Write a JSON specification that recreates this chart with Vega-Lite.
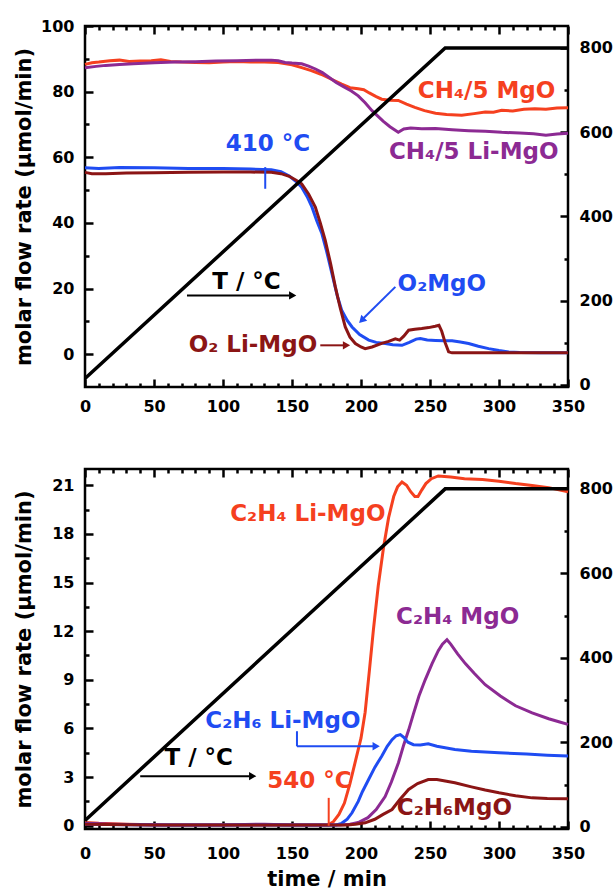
{
"$schema": "https://vega.github.io/schema/vega-lite/v6.json",
"padding": {"left": 11, "top": 16, "right": 0, "bottom": 0},
"spacing": 50,
"datasets": {
"temp": [{"t":0,"T":15},{"t":261,"T":800},{"t":350,"T":800}],
"top": [
{"s":"CH4/5 MgO","t":0,"v":88.3},{"s":"CH4/5 MgO","t":5,"v":88.8},{"s":"CH4/5 MgO","t":10,"v":89.0},{"s":"CH4/5 MgO","t":18,"v":89.4},{"s":"CH4/5 MgO","t":25,"v":89.6},{"s":"CH4/5 MgO","t":32,"v":89.2},{"s":"CH4/5 MgO","t":40,"v":89.3},{"s":"CH4/5 MgO","t":48,"v":89.4},{"s":"CH4/5 MgO","t":55,"v":89.7},{"s":"CH4/5 MgO","t":62,"v":89.2},{"s":"CH4/5 MgO","t":70,"v":89.0},{"s":"CH4/5 MgO","t":80,"v":88.9},{"s":"CH4/5 MgO","t":90,"v":88.8},{"s":"CH4/5 MgO","t":100,"v":89.0},{"s":"CH4/5 MgO","t":110,"v":89.2},{"s":"CH4/5 MgO","t":120,"v":89.0},{"s":"CH4/5 MgO","t":130,"v":89.0},{"s":"CH4/5 MgO","t":140,"v":88.9},{"s":"CH4/5 MgO","t":150,"v":88.2},{"s":"CH4/5 MgO","t":157,"v":87.3},{"s":"CH4/5 MgO","t":164,"v":86.4},{"s":"CH4/5 MgO","t":171,"v":85.3},{"s":"CH4/5 MgO","t":179,"v":83.7},{"s":"CH4/5 MgO","t":186,"v":82.3},{"s":"CH4/5 MgO","t":192,"v":81.2},{"s":"CH4/5 MgO","t":198,"v":80.9},{"s":"CH4/5 MgO","t":202,"v":80.6},{"s":"CH4/5 MgO","t":206,"v":79.6},{"s":"CH4/5 MgO","t":211,"v":78.5},{"s":"CH4/5 MgO","t":215,"v":77.7},{"s":"CH4/5 MgO","t":221,"v":77.4},{"s":"CH4/5 MgO","t":227,"v":77.3},{"s":"CH4/5 MgO","t":233,"v":76.2},{"s":"CH4/5 MgO","t":239,"v":75.2},{"s":"CH4/5 MgO","t":246,"v":74.2},{"s":"CH4/5 MgO","t":254,"v":73.4},{"s":"CH4/5 MgO","t":262,"v":73.0},{"s":"CH4/5 MgO","t":273,"v":72.8},{"s":"CH4/5 MgO","t":282,"v":73.3},{"s":"CH4/5 MgO","t":290,"v":73.8},{"s":"CH4/5 MgO","t":296,"v":73.7},{"s":"CH4/5 MgO","t":302,"v":74.3},{"s":"CH4/5 MgO","t":310,"v":74.1},{"s":"CH4/5 MgO","t":318,"v":74.6},{"s":"CH4/5 MgO","t":326,"v":74.8},{"s":"CH4/5 MgO","t":334,"v":74.6},{"s":"CH4/5 MgO","t":342,"v":75.0},{"s":"CH4/5 MgO","t":350,"v":75.1},
{"s":"CH4/5 Li-MgO","t":0,"v":87.3},{"s":"CH4/5 Li-MgO","t":8,"v":87.7},{"s":"CH4/5 Li-MgO","t":15,"v":88.0},{"s":"CH4/5 Li-MgO","t":25,"v":88.3},{"s":"CH4/5 Li-MgO","t":35,"v":88.5},{"s":"CH4/5 Li-MgO","t":50,"v":88.8},{"s":"CH4/5 Li-MgO","t":65,"v":89.0},{"s":"CH4/5 Li-MgO","t":80,"v":89.1},{"s":"CH4/5 Li-MgO","t":95,"v":89.3},{"s":"CH4/5 Li-MgO","t":110,"v":89.4},{"s":"CH4/5 Li-MgO","t":125,"v":89.6},{"s":"CH4/5 Li-MgO","t":135,"v":89.6},{"s":"CH4/5 Li-MgO","t":140,"v":89.4},{"s":"CH4/5 Li-MgO","t":145,"v":88.9},{"s":"CH4/5 Li-MgO","t":150,"v":88.7},{"s":"CH4/5 Li-MgO","t":157,"v":88.5},{"s":"CH4/5 Li-MgO","t":162,"v":87.8},{"s":"CH4/5 Li-MgO","t":167,"v":86.9},{"s":"CH4/5 Li-MgO","t":172,"v":85.8},{"s":"CH4/5 Li-MgO","t":177,"v":84.3},{"s":"CH4/5 Li-MgO","t":182,"v":82.8},{"s":"CH4/5 Li-MgO","t":187,"v":81.6},{"s":"CH4/5 Li-MgO","t":193,"v":80.2},{"s":"CH4/5 Li-MgO","t":198,"v":78.7},{"s":"CH4/5 Li-MgO","t":203,"v":76.6},{"s":"CH4/5 Li-MgO","t":208,"v":74.2},{"s":"CH4/5 Li-MgO","t":212,"v":72.6},{"s":"CH4/5 Li-MgO","t":216,"v":71.0},{"s":"CH4/5 Li-MgO","t":221,"v":69.3},{"s":"CH4/5 Li-MgO","t":227,"v":67.6},{"s":"CH4/5 Li-MgO","t":231,"v":68.6},{"s":"CH4/5 Li-MgO","t":236,"v":68.9},{"s":"CH4/5 Li-MgO","t":244,"v":68.7},{"s":"CH4/5 Li-MgO","t":254,"v":68.8},{"s":"CH4/5 Li-MgO","t":266,"v":68.4},{"s":"CH4/5 Li-MgO","t":278,"v":68.1},{"s":"CH4/5 Li-MgO","t":290,"v":67.9},{"s":"CH4/5 Li-MgO","t":302,"v":67.6},{"s":"CH4/5 Li-MgO","t":315,"v":67.4},{"s":"CH4/5 Li-MgO","t":325,"v":67.2},{"s":"CH4/5 Li-MgO","t":334,"v":66.7},{"s":"CH4/5 Li-MgO","t":342,"v":67.1},{"s":"CH4/5 Li-MgO","t":350,"v":67.3},
{"s":"O2 MgO","t":0,"v":56.8},{"s":"O2 MgO","t":10,"v":56.6},{"s":"O2 MgO","t":25,"v":56.9},{"s":"O2 MgO","t":50,"v":56.8},{"s":"O2 MgO","t":75,"v":56.6},{"s":"O2 MgO","t":100,"v":56.6},{"s":"O2 MgO","t":120,"v":56.4},{"s":"O2 MgO","t":135,"v":56.2},{"s":"O2 MgO","t":142,"v":55.6},{"s":"O2 MgO","t":148,"v":54.3},{"s":"O2 MgO","t":153,"v":52.6},{"s":"O2 MgO","t":157,"v":50.9},{"s":"O2 MgO","t":161,"v":48.0},{"s":"O2 MgO","t":164.5,"v":44.8},{"s":"O2 MgO","t":168,"v":40.6},{"s":"O2 MgO","t":171.7,"v":36.7},{"s":"O2 MgO","t":175,"v":31.5},{"s":"O2 MgO","t":179,"v":24.5},{"s":"O2 MgO","t":183,"v":17.5},{"s":"O2 MgO","t":186,"v":13.4},{"s":"O2 MgO","t":190,"v":10.3},{"s":"O2 MgO","t":193.5,"v":8.3},{"s":"O2 MgO","t":199,"v":6.0},{"s":"O2 MgO","t":205.6,"v":4.3},{"s":"O2 MgO","t":211,"v":3.6},{"s":"O2 MgO","t":217.6,"v":3.25},{"s":"O2 MgO","t":223,"v":2.9},{"s":"O2 MgO","t":229.7,"v":2.7},{"s":"O2 MgO","t":235,"v":3.6},{"s":"O2 MgO","t":240,"v":4.6},{"s":"O2 MgO","t":243,"v":4.8},{"s":"O2 MgO","t":248,"v":4.3},{"s":"O2 MgO","t":254,"v":4.2},{"s":"O2 MgO","t":260,"v":4.1},{"s":"O2 MgO","t":266,"v":4.1},{"s":"O2 MgO","t":272,"v":3.7},{"s":"O2 MgO","t":278,"v":3.25},{"s":"O2 MgO","t":285,"v":2.4},{"s":"O2 MgO","t":292.5,"v":1.7},{"s":"O2 MgO","t":300,"v":1.1},{"s":"O2 MgO","t":307,"v":0.7},{"s":"O2 MgO","t":315,"v":0.5},{"s":"O2 MgO","t":330,"v":0.4},{"s":"O2 MgO","t":350,"v":0.4},
{"s":"O2 Li-MgO","t":0,"v":55.4},{"s":"O2 Li-MgO","t":5,"v":55.0},{"s":"O2 Li-MgO","t":15,"v":55.0},{"s":"O2 Li-MgO","t":30,"v":55.2},{"s":"O2 Li-MgO","t":50,"v":55.3},{"s":"O2 Li-MgO","t":75,"v":55.4},{"s":"O2 Li-MgO","t":100,"v":55.5},{"s":"O2 Li-MgO","t":120,"v":55.5},{"s":"O2 Li-MgO","t":135,"v":55.4},{"s":"O2 Li-MgO","t":142,"v":55.0},{"s":"O2 Li-MgO","t":148,"v":54.2},{"s":"O2 Li-MgO","t":153,"v":53.0},{"s":"O2 Li-MgO","t":157,"v":51.9},{"s":"O2 Li-MgO","t":162,"v":48.8},{"s":"O2 Li-MgO","t":166.9,"v":44.8},{"s":"O2 Li-MgO","t":170.5,"v":40.0},{"s":"O2 Li-MgO","t":174.1,"v":34.7},{"s":"O2 Li-MgO","t":178,"v":27.5},{"s":"O2 Li-MgO","t":181.4,"v":20.5},{"s":"O2 Li-MgO","t":185,"v":14.0},{"s":"O2 Li-MgO","t":188.6,"v":8.3},{"s":"O2 Li-MgO","t":192,"v":5.2},{"s":"O2 Li-MgO","t":195.9,"v":3.25},{"s":"O2 Li-MgO","t":200,"v":2.2},{"s":"O2 Li-MgO","t":203,"v":1.7},{"s":"O2 Li-MgO","t":208,"v":2.2},{"s":"O2 Li-MgO","t":215,"v":3.3},{"s":"O2 Li-MgO","t":220,"v":3.9},{"s":"O2 Li-MgO","t":224.9,"v":4.7},{"s":"O2 Li-MgO","t":228,"v":4.3},{"s":"O2 Li-MgO","t":231,"v":5.5},{"s":"O2 Li-MgO","t":234.5,"v":7.3},{"s":"O2 Li-MgO","t":239,"v":7.6},{"s":"O2 Li-MgO","t":244,"v":7.8},{"s":"O2 Li-MgO","t":249,"v":8.1},{"s":"O2 Li-MgO","t":253.8,"v":8.5},{"s":"O2 Li-MgO","t":256.5,"v":8.8},{"s":"O2 Li-MgO","t":258.5,"v":7.0},{"s":"O2 Li-MgO","t":261,"v":3.5},{"s":"O2 Li-MgO","t":263.5,"v":0.7},{"s":"O2 Li-MgO","t":266,"v":0.4},{"s":"O2 Li-MgO","t":290,"v":0.4},{"s":"O2 Li-MgO","t":320,"v":0.4},{"s":"O2 Li-MgO","t":350,"v":0.4}
],
"bot": [
{"s":"C2H4 Li-MgO","t":0,"v":0.2},{"s":"C2H4 Li-MgO","t":10,"v":0.15},{"s":"C2H4 Li-MgO","t":30,"v":0.1},{"s":"C2H4 Li-MgO","t":60,"v":0.05},{"s":"C2H4 Li-MgO","t":100,"v":0.05},{"s":"C2H4 Li-MgO","t":140,"v":0.05},{"s":"C2H4 Li-MgO","t":176,"v":0.05},{"s":"C2H4 Li-MgO","t":180,"v":0.25},{"s":"C2H4 Li-MgO","t":184,"v":0.7},{"s":"C2H4 Li-MgO","t":188,"v":1.4},{"s":"C2H4 Li-MgO","t":192,"v":2.6},{"s":"C2H4 Li-MgO","t":196,"v":4.0},{"s":"C2H4 Li-MgO","t":200,"v":5.4},{"s":"C2H4 Li-MgO","t":203,"v":7.0},{"s":"C2H4 Li-MgO","t":206,"v":9.5},{"s":"C2H4 Li-MgO","t":209,"v":12.1},{"s":"C2H4 Li-MgO","t":212.5,"v":14.8},{"s":"C2H4 Li-MgO","t":216.4,"v":17.2},{"s":"C2H4 Li-MgO","t":220,"v":19.0},{"s":"C2H4 Li-MgO","t":223.7,"v":20.3},{"s":"C2H4 Li-MgO","t":226.5,"v":20.9},{"s":"C2H4 Li-MgO","t":229.7,"v":21.2},{"s":"C2H4 Li-MgO","t":233,"v":21.0},{"s":"C2H4 Li-MgO","t":236,"v":20.6},{"s":"C2H4 Li-MgO","t":239,"v":20.3},{"s":"C2H4 Li-MgO","t":241.3,"v":20.3},{"s":"C2H4 Li-MgO","t":244,"v":20.7},{"s":"C2H4 Li-MgO","t":247,"v":21.1},{"s":"C2H4 Li-MgO","t":251,"v":21.4},{"s":"C2H4 Li-MgO","t":256,"v":21.57},{"s":"C2H4 Li-MgO","t":265,"v":21.5},{"s":"C2H4 Li-MgO","t":275,"v":21.4},{"s":"C2H4 Li-MgO","t":288,"v":21.35},{"s":"C2H4 Li-MgO","t":300,"v":21.25},{"s":"C2H4 Li-MgO","t":312,"v":21.1},{"s":"C2H4 Li-MgO","t":324,"v":20.98},{"s":"C2H4 Li-MgO","t":336,"v":20.85},{"s":"C2H4 Li-MgO","t":350,"v":20.6},
{"s":"C2H4 MgO","t":0,"v":0.15},{"s":"C2H4 MgO","t":20,"v":0.1},{"s":"C2H4 MgO","t":60,"v":0.05},{"s":"C2H4 MgO","t":100,"v":0.05},{"s":"C2H4 MgO","t":130,"v":0.1},{"s":"C2H4 MgO","t":150,"v":0.05},{"s":"C2H4 MgO","t":185,"v":0.05},{"s":"C2H4 MgO","t":192,"v":0.1},{"s":"C2H4 MgO","t":198,"v":0.2},{"s":"C2H4 MgO","t":205,"v":0.5},{"s":"C2H4 MgO","t":211,"v":1.0},{"s":"C2H4 MgO","t":217.5,"v":1.8},{"s":"C2H4 MgO","t":222,"v":2.7},{"s":"C2H4 MgO","t":227.2,"v":3.9},{"s":"C2H4 MgO","t":231,"v":5.0},{"s":"C2H4 MgO","t":234.5,"v":5.9},{"s":"C2H4 MgO","t":238,"v":6.9},{"s":"C2H4 MgO","t":242,"v":8.0},{"s":"C2H4 MgO","t":246.5,"v":9.0},{"s":"C2H4 MgO","t":251.5,"v":10.0},{"s":"C2H4 MgO","t":256,"v":10.8},{"s":"C2H4 MgO","t":259,"v":11.2},{"s":"C2H4 MgO","t":262.3,"v":11.47},{"s":"C2H4 MgO","t":265,"v":11.2},{"s":"C2H4 MgO","t":270,"v":10.6},{"s":"C2H4 MgO","t":275.6,"v":10.0},{"s":"C2H4 MgO","t":282,"v":9.4},{"s":"C2H4 MgO","t":290,"v":8.7},{"s":"C2H4 MgO","t":301,"v":8.0},{"s":"C2H4 MgO","t":312,"v":7.4},{"s":"C2H4 MgO","t":324,"v":6.96},{"s":"C2H4 MgO","t":336,"v":6.6},{"s":"C2H4 MgO","t":344,"v":6.4},{"s":"C2H4 MgO","t":350,"v":6.25},
{"s":"C2H6 Li-MgO","t":0,"v":0.1},{"s":"C2H6 Li-MgO","t":50,"v":0.05},{"s":"C2H6 Li-MgO","t":100,"v":0.05},{"s":"C2H6 Li-MgO","t":150,"v":0.05},{"s":"C2H6 Li-MgO","t":182,"v":0.05},{"s":"C2H6 Li-MgO","t":186,"v":0.15},{"s":"C2H6 Li-MgO","t":190,"v":0.4},{"s":"C2H6 Li-MgO","t":193.5,"v":0.8},{"s":"C2H6 Li-MgO","t":198,"v":1.5},{"s":"C2H6 Li-MgO","t":201,"v":2.1},{"s":"C2H6 Li-MgO","t":205.5,"v":2.85},{"s":"C2H6 Li-MgO","t":210,"v":3.6},{"s":"C2H6 Li-MgO","t":215,"v":4.29},{"s":"C2H6 Li-MgO","t":219,"v":4.9},{"s":"C2H6 Li-MgO","t":222.5,"v":5.31},{"s":"C2H6 Li-MgO","t":225.5,"v":5.55},{"s":"C2H6 Li-MgO","t":228.5,"v":5.62},{"s":"C2H6 Li-MgO","t":231,"v":5.45},{"s":"C2H6 Li-MgO","t":234,"v":5.15},{"s":"C2H6 Li-MgO","t":238,"v":5.0},{"s":"C2H6 Li-MgO","t":243,"v":4.98},{"s":"C2H6 Li-MgO","t":248.7,"v":5.05},{"s":"C2H6 Li-MgO","t":255,"v":4.9},{"s":"C2H6 Li-MgO","t":262,"v":4.8},{"s":"C2H6 Li-MgO","t":268,"v":4.7},{"s":"C2H6 Li-MgO","t":280,"v":4.6},{"s":"C2H6 Li-MgO","t":300,"v":4.5},{"s":"C2H6 Li-MgO","t":320,"v":4.42},{"s":"C2H6 Li-MgO","t":335,"v":4.35},{"s":"C2H6 Li-MgO","t":350,"v":4.3},
{"s":"C2H6 MgO","t":0,"v":0.1},{"s":"C2H6 MgO","t":50,"v":0.05},{"s":"C2H6 MgO","t":150,"v":0.05},{"s":"C2H6 MgO","t":190,"v":0.05},{"s":"C2H6 MgO","t":196,"v":0.1},{"s":"C2H6 MgO","t":203,"v":0.18},{"s":"C2H6 MgO","t":210,"v":0.4},{"s":"C2H6 MgO","t":216,"v":0.7},{"s":"C2H6 MgO","t":222.5,"v":1.0},{"s":"C2H6 MgO","t":228,"v":1.6},{"s":"C2H6 MgO","t":234.5,"v":2.24},{"s":"C2H6 MgO","t":241,"v":2.6},{"s":"C2H6 MgO","t":248.7,"v":2.85},{"s":"C2H6 MgO","t":255,"v":2.85},{"s":"C2H6 MgO","t":262,"v":2.75},{"s":"C2H6 MgO","t":268,"v":2.65},{"s":"C2H6 MgO","t":280,"v":2.4},{"s":"C2H6 MgO","t":290,"v":2.2},{"s":"C2H6 MgO","t":300,"v":2.03},{"s":"C2H6 MgO","t":312,"v":1.85},{"s":"C2H6 MgO","t":324,"v":1.72},{"s":"C2H6 MgO","t":335,"v":1.68},{"s":"C2H6 MgO","t":350,"v":1.66}
],
"topText": [
{"t":117,"v":22,"label":"T / °C","s":"T"},
{"t":121.7,"v":2.7,"label":"O₂ Li-MgO","s":"O2 Li-MgO"},
{"t":258.6,"v":21.5,"label":"O₂MgO","s":"O2 MgO"},
{"t":291,"v":80.2,"label":"CH₄/5 MgO","s":"CH4/5 MgO"},
{"t":281.7,"v":61.5,"label":"CH₄/5 Li-MgO","s":"CH4/5 Li-MgO"},
{"t":132.5,"v":64,"label":"410 °C","s":"O2 MgO"}
],
"botText": [
{"t":161.5,"v":19.2,"label":"C₂H₄ Li-MgO","s":"C2H4 Li-MgO"},
{"t":270,"v":12.9,"label":"C₂H₄ MgO","s":"C2H4 MgO"},
{"t":143.4,"v":6.45,"label":"C₂H₆ Li-MgO","s":"C2H6 Li-MgO"},
{"t":82.4,"v":4.19,"label":"T / °C","s":"T"},
{"t":162.7,"v":2.75,"label":"540 °C","s":"C2H4 Li-MgO"},
{"t":267.7,"v":1.1,"label":"C₂H₆MgO","s":"C2H6 MgO"}
],
"topSeg": [
{"t":73.9,"v":17.9,"t2":148,"v2":17.9,"s":"T"},
{"t":170.5,"v":2.7,"t2":188,"v2":2.7,"s":"O2 Li-MgO"},
{"t":224.9,"v":20.5,"t2":202,"v2":11.0,"s":"O2 MgO"},
{"t":130.6,"v":57,"t2":130.6,"v2":50.4,"s":"O2 MgO"}
],
"topHead": [
{"t":150.5,"v":17.9,"a":0,"s":"T"},
{"t":189.5,"v":2.7,"a":0,"s":"O2 Li-MgO"},
{"t":200.5,"v":10.3,"a":135,"s":"O2 MgO"}
],
"botSeg": [
{"t":40,"v":3.06,"t2":119,"v2":3.06,"s":"T"},
{"t":153.6,"v":5.83,"t2":153.6,"v2":4.9,"s":"C2H6 Li-MgO"},
{"t":153.6,"v":4.9,"t2":209,"v2":4.9,"s":"C2H6 Li-MgO"},
{"t":176.6,"v":1.72,"t2":176.6,"v2":0,"s":"C2H4 Li-MgO"}
],
"botHead": [
{"t":121.5,"v":3.06,"a":0,"s":"T"},
{"t":211,"v":4.9,"a":0,"s":"C2H6 Li-MgO"}
]
},
"vconcat": [
{
"width": 483, "height": 361,
"layer": [
{"data": {"name": "top"}, "mark": {"type": "line", "strokeWidth": 3},
 "encoding": {
  "x": {"field": "t", "type": "quantitative", "scale": {"domain": [0, 350], "nice": false},
        "axis": {"orient": "bottom", "values": [0,50,100,150,200,250,300,350], "title": null, "offset": -8, "tickSize": 8, "labelPadding": 11}},
  "y": {"field": "v", "type": "quantitative", "scale": {"domain": [-10, 100], "nice": false, "zero": false},
        "axis": {"orient": "left", "values": [0,20,40,60,80,100], "title": "molar flow rate (μmol/min)", "offset": -8, "tickSize": 8, "labelPadding": 11, "titleX": -69, "titleBaseline": "middle", "titleFontSize": 21}},
  "color": {"field": "s", "type": "nominal", "legend": null,
            "scale": {"domain": ["CH4/5 MgO","CH4/5 Li-MgO","O2 MgO","O2 Li-MgO","T"], "range": ["#f5401f","#8c2a93","#1f4cf2","#8b1515","#000000"]}}
 }},
{"data": {"name": "temp"}, "mark": {"type": "line", "strokeWidth": 3.5, "color": "#000"},
 "encoding": {
  "x": {"field": "t", "type": "quantitative", "scale": {"domain": [0, 350], "nice": false},
        "axis": {"orient": "top", "values": [0,50,100,150,200,250,300,350], "title": null, "labels": false, "offset": -8, "tickSize": 8}},
  "y": {"field": "T", "type": "quantitative", "scale": {"domain": [-5, 852], "nice": false, "zero": false},
        "axis": {"orient": "right", "values": [0,200,400,600,800], "title": null, "offset": -8, "tickSize": 8, "labelPadding": 11}}
 }},
{"data": {"name": "top"}, "mark": {"type": "line", "opacity": 0},
 "encoding": {
  "x": {"field": "t", "type": "quantitative", "scale": {"domain": [0, 350], "nice": false},
        "axis": {"orient": "bottom", "values": [10,20,30,40,60,70,80,90,110,120,130,140,160,170,180,190,210,220,230,240,260,270,280,290,310,320,330,340], "title": null, "labels": false, "offset": -4, "tickSize": 4}},
  "y": {"field": "v", "type": "quantitative", "scale": {"domain": [-10, 100], "nice": false, "zero": false},
        "axis": {"orient": "left", "values": [10,30,50,70,90], "title": null, "labels": false, "offset": -4, "tickSize": 4}},
  "detail": {"field": "s"}
 }},
{"data": {"name": "temp"}, "mark": {"type": "line", "opacity": 0},
 "encoding": {
  "x": {"field": "t", "type": "quantitative", "scale": {"domain": [0, 350], "nice": false},
        "axis": {"orient": "top", "values": [10,20,30,40,60,70,80,90,110,120,130,140,160,170,180,190,210,220,230,240,260,270,280,290,310,320,330,340], "title": null, "labels": false, "offset": -4, "tickSize": 4}},
  "y": {"field": "T", "type": "quantitative", "scale": {"domain": [-5, 852], "nice": false, "zero": false},
        "axis": {"orient": "right", "values": [100,300,500,700], "title": null, "labels": false, "offset": -4, "tickSize": 4}}
 }},
{"data": {"name": "topSeg"}, "mark": {"type": "rule", "strokeWidth": 2},
 "encoding": {
  "x": {"field": "t", "type": "quantitative", "scale": {"domain": [0, 350], "nice": false}, "axis": null},
  "x2": {"field": "t2"},
  "y": {"field": "v", "type": "quantitative", "scale": {"domain": [-10, 100], "nice": false, "zero": false}, "axis": null},
  "y2": {"field": "v2"},
  "color": {"field": "s", "type": "nominal", "legend": null,
            "scale": {"domain": ["CH4/5 MgO","CH4/5 Li-MgO","O2 MgO","O2 Li-MgO","T"], "range": ["#f5401f","#8c2a93","#1f4cf2","#8b1515","#000000"]}}
 }},
{"data": {"name": "topHead"}, "mark": {"type": "point", "shape": "triangle-right", "filled": true, "size": 70, "opacity": 1},
 "encoding": {
  "x": {"field": "t", "type": "quantitative", "scale": {"domain": [0, 350], "nice": false}, "axis": null},
  "y": {"field": "v", "type": "quantitative", "scale": {"domain": [-10, 100], "nice": false, "zero": false}, "axis": null},
  "angle": {"field": "a", "type": "quantitative", "scale": null},
  "color": {"field": "s", "type": "nominal", "legend": null,
            "scale": {"domain": ["CH4/5 MgO","CH4/5 Li-MgO","O2 MgO","O2 Li-MgO","T"], "range": ["#f5401f","#8c2a93","#1f4cf2","#8b1515","#000000"]}}
 }},
{"data": {"name": "topText"}, "mark": {"type": "text", "align": "center", "baseline": "middle", "fontSize": 23, "fontWeight": "bold", "font": "DejaVu Sans"},
 "encoding": {
  "x": {"field": "t", "type": "quantitative", "scale": {"domain": [0, 350], "nice": false}, "axis": null},
  "y": {"field": "v", "type": "quantitative", "scale": {"domain": [-10, 100], "nice": false, "zero": false}, "axis": null},
  "text": {"field": "label"},
  "color": {"field": "s", "type": "nominal", "legend": null,
            "scale": {"domain": ["CH4/5 MgO","CH4/5 Li-MgO","O2 MgO","O2 Li-MgO","T"], "range": ["#f5401f","#8c2a93","#1f4cf2","#8b1515","#000000"]}}
 }}
],
"resolve": {"scale": {"y": "independent"}, "axis": {"x": "independent", "y": "independent"}}
},
{
"width": 483, "height": 360,
"layer": [
{"data": {"name": "bot"}, "mark": {"type": "line", "strokeWidth": 3},
 "encoding": {
  "x": {"field": "t", "type": "quantitative", "scale": {"domain": [0, 350], "nice": false},
        "axis": {"orient": "bottom", "values": [0,50,100,150,200,250,300,350], "title": "time / min", "titleFontSize": 21, "titlePadding": 7, "offset": -8, "tickSize": 8, "labelPadding": 16}},
  "y": {"field": "v", "type": "quantitative", "scale": {"domain": [-0.2, 22], "nice": false, "zero": false},
        "axis": {"orient": "left", "values": [0,3,6,9,12,15,18,21], "title": "molar flow rate (μmol/min)", "offset": -8, "tickSize": 8, "labelPadding": 11, "titleX": -69, "titleBaseline": "middle", "titleFontSize": 21}},
  "color": {"field": "s", "type": "nominal", "legend": null,
            "scale": {"domain": ["C2H4 Li-MgO","C2H4 MgO","C2H6 Li-MgO","C2H6 MgO","T"], "range": ["#f5401f","#8c2a93","#1f4cf2","#8b1515","#000000"]}}
 }},
{"data": {"name": "temp"}, "mark": {"type": "line", "strokeWidth": 3.5, "color": "#000"},
 "encoding": {
  "x": {"field": "t", "type": "quantitative", "scale": {"domain": [0, 350], "nice": false},
        "axis": {"orient": "top", "values": [0,50,100,150,200,250,300,350], "title": null, "labels": false, "offset": -8, "tickSize": 8}},
  "y": {"field": "T", "type": "quantitative", "scale": {"domain": [-5, 847], "nice": false, "zero": false},
        "axis": {"orient": "right", "values": [0,200,400,600,800], "title": null, "offset": -8, "tickSize": 8, "labelPadding": 11}}
 }},
{"data": {"name": "bot"}, "mark": {"type": "line", "opacity": 0},
 "encoding": {
  "x": {"field": "t", "type": "quantitative", "scale": {"domain": [0, 350], "nice": false},
        "axis": {"orient": "bottom", "values": [10,20,30,40,60,70,80,90,110,120,130,140,160,170,180,190,210,220,230,240,260,270,280,290,310,320,330,340], "title": null, "labels": false, "offset": -4, "tickSize": 4}},
  "y": {"field": "v", "type": "quantitative", "scale": {"domain": [-0.2, 22], "nice": false, "zero": false},
        "axis": {"orient": "left", "values": [1.5,4.5,7.5,10.5,13.5,16.5,19.5], "title": null, "labels": false, "offset": -4, "tickSize": 4}},
  "detail": {"field": "s"}
 }},
{"data": {"name": "temp"}, "mark": {"type": "line", "opacity": 0},
 "encoding": {
  "x": {"field": "t", "type": "quantitative", "scale": {"domain": [0, 350], "nice": false},
        "axis": {"orient": "top", "values": [10,20,30,40,60,70,80,90,110,120,130,140,160,170,180,190,210,220,230,240,260,270,280,290,310,320,330,340], "title": null, "labels": false, "offset": -4, "tickSize": 4}},
  "y": {"field": "T", "type": "quantitative", "scale": {"domain": [-5, 847], "nice": false, "zero": false},
        "axis": {"orient": "right", "values": [100,300,500,700], "title": null, "labels": false, "offset": -4, "tickSize": 4}}
 }},
{"data": {"name": "botSeg"}, "mark": {"type": "rule", "strokeWidth": 2},
 "encoding": {
  "x": {"field": "t", "type": "quantitative", "scale": {"domain": [0, 350], "nice": false}, "axis": null},
  "x2": {"field": "t2"},
  "y": {"field": "v", "type": "quantitative", "scale": {"domain": [-0.2, 22], "nice": false, "zero": false}, "axis": null},
  "y2": {"field": "v2"},
  "color": {"field": "s", "type": "nominal", "legend": null,
            "scale": {"domain": ["C2H4 Li-MgO","C2H4 MgO","C2H6 Li-MgO","C2H6 MgO","T"], "range": ["#f5401f","#8c2a93","#1f4cf2","#8b1515","#000000"]}}
 }},
{"data": {"name": "botHead"}, "mark": {"type": "point", "shape": "triangle-right", "filled": true, "size": 70, "opacity": 1},
 "encoding": {
  "x": {"field": "t", "type": "quantitative", "scale": {"domain": [0, 350], "nice": false}, "axis": null},
  "y": {"field": "v", "type": "quantitative", "scale": {"domain": [-0.2, 22], "nice": false, "zero": false}, "axis": null},
  "angle": {"field": "a", "type": "quantitative", "scale": null},
  "color": {"field": "s", "type": "nominal", "legend": null,
            "scale": {"domain": ["C2H4 Li-MgO","C2H4 MgO","C2H6 Li-MgO","C2H6 MgO","T"], "range": ["#f5401f","#8c2a93","#1f4cf2","#8b1515","#000000"]}}
 }},
{"data": {"name": "botText"}, "mark": {"type": "text", "align": "center", "baseline": "middle", "fontSize": 23, "fontWeight": "bold", "font": "DejaVu Sans"},
 "encoding": {
  "x": {"field": "t", "type": "quantitative", "scale": {"domain": [0, 350], "nice": false}, "axis": null},
  "y": {"field": "v", "type": "quantitative", "scale": {"domain": [-0.2, 22], "nice": false, "zero": false}, "axis": null},
  "text": {"field": "label"},
  "color": {"field": "s", "type": "nominal", "legend": null,
            "scale": {"domain": ["C2H4 Li-MgO","C2H4 MgO","C2H6 Li-MgO","C2H6 MgO","T"], "range": ["#f5401f","#8c2a93","#1f4cf2","#8b1515","#000000"]}}
 }}
],
"resolve": {"scale": {"y": "independent"}, "axis": {"x": "independent", "y": "independent"}}
}
],
"config": {
 "view": {"stroke": "#000", "strokeWidth": 2.5},
 "axis": {"grid": false, "domain": false, "ticks": true, "tickColor": "#000", "tickWidth": 2.5, "labelFlush": false, "labelOverlap": false,
          "labelFont": "DejaVu Sans", "labelFontWeight": "bold", "labelFontSize": 16, "labelColor": "#000",
          "titleFont": "DejaVu Sans", "titleFontWeight": "bold", "titleColor": "#000"}
}
}
